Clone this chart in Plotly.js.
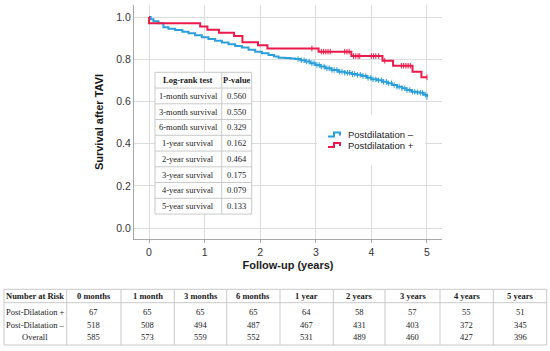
<!DOCTYPE html>
<html>
<head>
<meta charset="utf-8">
<script src="https://cdn.plot.ly/plotly-3.0.1.min.js"></script>
<style>html,body{margin:0;padding:0;background:#fff;}#chart{width:550px;height:351px;}</style>
</head>
<body>
<div id="chart"></div>
<script>
// ---- Data ----
const bluePoints_t = [0, 0.03, 0.08, 0.17, 0.26, 0.35, 0.47, 0.60, 0.71, 0.83, 0.95, 1.07, 1.19, 1.31, 1.43, 1.55, 1.67, 1.79, 1.91, 2.03, 2.15, 2.25, 2.33, 2.45, 2.54, 2.63, 2.72, 2.81, 2.90, 2.99, 3.08, 3.17, 3.28, 3.40, 3.52, 3.64, 3.73, 3.83, 3.92, 4.00, 4.10, 4.19, 4.28, 4.37, 4.46, 4.55, 4.63, 4.72, 4.80, 4.87, 4.94, 5.00];
const bluePoints_s = [1.000, 0.990, 0.980, 0.970, 0.951, 0.945, 0.938, 0.930, 0.923, 0.914, 0.904, 0.896, 0.888, 0.879, 0.871, 0.863, 0.855, 0.845, 0.836, 0.828, 0.820, 0.813, 0.807, 0.806, 0.804, 0.801, 0.795, 0.789, 0.781, 0.773, 0.765, 0.757, 0.749, 0.741, 0.736, 0.730, 0.726, 0.720, 0.712, 0.705, 0.700, 0.693, 0.686, 0.678, 0.670, 0.662, 0.654, 0.646, 0.643, 0.641, 0.632, 0.622];
const blueCensor_t = [2.68, 2.74, 2.79, 2.83, 2.88, 2.93, 2.97, 3.02, 3.06, 3.10, 3.15, 3.20, 3.24, 3.29, 3.33, 3.38, 3.43, 3.47, 3.52, 3.57, 3.61, 3.66, 3.70, 3.75, 3.80, 3.85, 3.90, 3.94, 3.99, 4.03, 4.08, 4.13, 4.18, 4.22, 4.27, 4.31, 4.36, 4.41, 4.46, 4.50, 4.55, 4.60, 4.64, 4.69, 4.74, 4.78, 4.83, 4.88, 4.92, 4.97, 5.00];

const redPoints_t = [0, 0.001, 0.92, 1.05, 1.26, 1.53, 1.68, 1.96, 2.13, 3.05, 3.64, 4.20, 4.39, 4.74, 4.90, 5.00];
const redPoints_s = [1.000, 0.970, 0.955, 0.940, 0.925, 0.910, 0.881, 0.866, 0.851, 0.836, 0.815, 0.793, 0.769, 0.741, 0.714, 0.714];
const redCensor_t = [2.93, 3.10, 3.14, 3.18, 3.22, 3.26, 3.52, 3.56, 3.60, 3.68, 3.72, 3.76, 3.79, 4.00, 4.04, 4.08, 4.13, 4.24, 4.54, 4.58, 4.62, 4.66, 4.70, 5.00];

const seriesNames = ['Postdilatation \u2013', 'Postdilatation +'];

const logrankLabels = ['1-month survival', '3-month survival', '6-month survival', '1-year survival', '2-year survival', '3-year survival', '4-year survival', '5-year survival'];
const logrankP = ['0.560', '0.550', '0.329', '0.162', '0.464', '0.175', '0.079', '0.133'];

const riskHeaders = ['0 months', '1 month', '3 months', '6 months', '1 year', '2 years', '3 years', '4 years', '5 years'];
const riskRowLabels = ['Post-Dilatation +', 'Post-Dilatation \u2013', 'Overall'];
const riskPlus = [67, 65, 65, 65, 64, 58, 57, 55, 51];
const riskMinus = [518, 508, 494, 487, 467, 431, 403, 372, 345];
const riskOverall = [585, 573, 559, 552, 531, 489, 460, 427, 396];

// ---- Styling / layout helpers ----
const BLUE = '#2b9fd9', RED = '#ec1a4b';
const L = 134, R = 442, T = 5, B = 239;
const px = x => (x - L) / (R - L);
const py = y => (B - y) / (B - T);
function stepAt(ts, ss, t) { let v = ss[0]; for (let i = 0; i < ts.length; i++) { if (ts[i] <= t) v = ss[i]; } return v; }

const traces = [
  {x: bluePoints_t, y: bluePoints_s, mode: 'lines', line: {shape: 'hv', color: BLUE, width: 2}, name: seriesNames[0], showlegend: false, hoverinfo: 'skip'},
  {x: blueCensor_t, y: blueCensor_t.map(t => stepAt(bluePoints_t, bluePoints_s, t)), mode: 'markers', marker: {symbol: 'line-ns-open', size: 4, color: BLUE, line: {color: BLUE, width: 1}}, showlegend: false, hoverinfo: 'skip'},
  {x: redPoints_t, y: redPoints_s, mode: 'lines', line: {shape: 'hv', color: RED, width: 2}, name: seriesNames[1], showlegend: false, hoverinfo: 'skip'},
  {x: redCensor_t, y: redCensor_t.map(t => stepAt(redPoints_t, redPoints_s, t)), mode: 'markers', marker: {symbol: 'line-ns-open', size: 4, color: RED, line: {color: RED, width: 1}}, showlegend: false, hoverinfo: 'skip'}
];

const shapes = [];
const annotations = [];
const GRIDC = '#c9c9c9';
function hline(x0, x1, y, color) { shapes.push({type: 'line', xref: 'paper', yref: 'paper', x0: px(x0), x1: px(x1), y0: py(y), y1: py(y), line: {color: color || GRIDC, width: 1}, layer: 'above'}); }
function vline(x, y0, y1, color) { shapes.push({type: 'line', xref: 'paper', yref: 'paper', x0: px(x), x1: px(x), y0: py(y0), y1: py(y1), line: {color: color || GRIDC, width: 1}, layer: 'above'}); }
function rect(x0, y0, x1, y1, fill, lineColor) { shapes.push({type: 'rect', xref: 'paper', yref: 'paper', x0: px(x0), x1: px(x1), y0: py(y0), y1: py(y1), fillcolor: fill, line: {color: lineColor || 'rgba(0,0,0,0)', width: lineColor ? 1 : 0}, layer: 'above'}); }
function text(str, x, y, opts) {
  opts = opts || {};
  annotations.push({text: str, xref: 'paper', yref: 'paper', x: px(x), y: py(y), showarrow: false, xanchor: opts.xanchor || 'center', yanchor: 'middle',
    font: {family: opts.family || 'Liberation Serif, Times New Roman, serif', size: opts.size || 8.5, color: opts.color || '#1a1a1a', weight: opts.bold ? 700 : 400}});
}

// Inset log-rank table
const itX0 = 155, itX1 = 221.7, itX2 = 251.7, itY0 = 72.3, itRow = 15.75;
const nRows = logrankLabels.length + 1;
rect(itX0, itY0, itX2, itY0 + itRow * nRows, '#ffffff', GRIDC);
for (let i = 1; i < nRows; i++) hline(itX0, itX2, itY0 + itRow * i);
vline(itX1, itY0, itY0 + itRow * nRows);
text('<b>Log-rank test</b>', (itX0 + itX1) / 2, itY0 + itRow * 0.5, {bold: true});
text('<b>P-value</b>', (itX1 + itX2) / 2, itY0 + itRow * 0.5, {bold: true});
logrankLabels.forEach((lab, i) => {
  text(lab, (itX0 + itX1) / 2, itY0 + itRow * (i + 1.5));
  text(logrankP[i], (itX1 + itX2) / 2, itY0 + itRow * (i + 1.5));
});

// Legend (step-shaped keys)
rect(317, 115, 425, 165, '#ffffff');
function stepKey(yLow, color) {
  const d = 'M ' + px(328) + ',' + py(yLow) + ' L ' + px(334) + ',' + py(yLow) + ' L ' + px(334) + ',' + py(yLow - 4) + ' L ' + px(340) + ',' + py(yLow - 4) + ' L ' + px(340) + ',' + py(yLow - 1);
  shapes.push({type: 'path', xref: 'paper', yref: 'paper', path: d, line: {color: color, width: 2}, layer: 'above'});
}
stepKey(136.5, BLUE);
stepKey(147, RED);
text(seriesNames[0], 345.5, 134.7, {xanchor: 'left', family: 'Liberation Sans, Arial, sans-serif', size: 9.5, color: '#222'});
text(seriesNames[1], 345.5, 145.3, {xanchor: 'left', family: 'Liberation Sans, Arial, sans-serif', size: 9.5, color: '#222'});

// Bottom number-at-risk table
const colEdges = [4, 66.7, 121, 174.3, 226.7, 280, 333.3, 385, 440, 493.3, 546.7];
const tTop = 289.3, tHead = 302.7, tBot = 345;
rect(colEdges[0], tTop, colEdges[colEdges.length - 1], tBot, 'rgba(0,0,0,0)', GRIDC);
hline(colEdges[0], colEdges[colEdges.length - 1], tHead);
for (let i = 1; i < colEdges.length - 1; i++) vline(colEdges[i], tTop, tBot);
const headY = 296, rowYs = [312.3, 325, 337.3];
text('<b>Number at Risk</b>', (colEdges[0] + colEdges[1]) / 2, headY, {bold: true});
riskHeaders.forEach((h, i) => text('<b>' + h + '</b>', (colEdges[i + 1] + colEdges[i + 2]) / 2, headY, {bold: true}));
const riskRows = [riskPlus, riskMinus, riskOverall];
riskRowLabels.forEach((lab, r) => {
  text(lab, (colEdges[0] + colEdges[1]) / 2, rowYs[r]);
  riskRows[r].forEach((v, i) => text(String(v), (colEdges[i + 1] + colEdges[i + 2]) / 2, rowYs[r]));
});

const axisFont = {family: 'Liberation Sans, Arial, sans-serif', size: 10.5, color: '#333'};
const layout = {
  width: 550, height: 351,
  margin: {l: L, r: 550 - R, t: T, b: 351 - B, pad: 0},
  paper_bgcolor: '#ffffff', plot_bgcolor: '#ffffff',
  showlegend: false,
  xaxis: {
    range: [-0.27, 5.27], dtick: 1, tick0: 0, showgrid: true, gridcolor: '#dcdcdc', gridwidth: 1,
    zeroline: false, showline: true, linecolor: '#a8a8a8', linewidth: 1,
    ticks: 'outside', ticklen: 3, tickcolor: '#a8a8a8', tickfont: axisFont,
    title: {text: '<b>Follow-up (years)</b>', font: {family: 'Liberation Sans, Arial, sans-serif', size: 11, color: '#1a1a1a'}, standoff: 4}
  },
  yaxis: {
    range: [-0.052, 1.057], dtick: 0.2, tick0: 0, tickformat: '.1f', showgrid: true, gridcolor: '#dcdcdc', gridwidth: 1,
    zeroline: false, showline: true, linecolor: '#a8a8a8', linewidth: 1,
    ticks: '', tickfont: axisFont,
    title: {text: '<b>Survival after TAVI</b>', font: {family: 'Liberation Sans, Arial, sans-serif', size: 11, color: '#1a1a1a'}, standoff: 10}
  },
  shapes: shapes,
  annotations: annotations
};

Plotly.newPlot('chart', traces, layout, {displayModeBar: false, staticPlot: true});
</script>
</body>
</html>
